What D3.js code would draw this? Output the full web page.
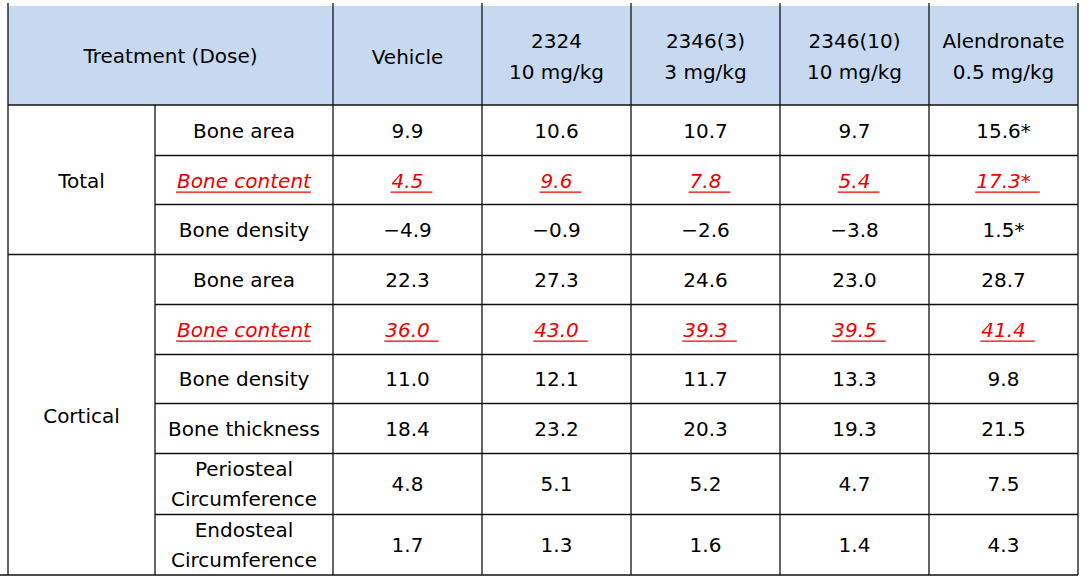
<!DOCTYPE html>
<html><head><meta charset="utf-8">
<script src="https://cdn.jsdelivr.net/npm/d3@7"></script>
<style>
html,body{margin:0;padding:0;background:#fff;}
svg{display:block;}
text{font-family:"DejaVu Sans",sans-serif;font-size:20px;fill:#000;}
</style></head><body>
<svg id="c" width="1091" height="580"></svg>
<script>
// ---- data ----
const headerTitle = "Treatment (Dose)";
const treatments = ["Vehicle", "2324", "2346(3)", "2346(10)", "Alendronate"];
const doses = ["", "10 mg/kg", "3 mg/kg", "10 mg/kg", "0.5 mg/kg"];
const groups = ["Total", "Cortical"];
const groupOf = ["Total","Total","Total","Cortical","Cortical","Cortical","Cortical","Cortical","Cortical"];
const parameters = [["Bone area"],["Bone content"],["Bone density"],["Bone area"],["Bone content"],["Bone density"],["Bone thickness"],["Periosteal","Circumference"],["Endosteal","Circumference"]];
const highlighted = [false,true,false,false,true,false,false,false,false];
const vehicle     = [9.9, 4.5, -4.9, 22.3, 36.0, 11.0, 18.4, 4.8, 1.7];
const c2324       = [10.6, 9.6, -0.9, 27.3, 43.0, 12.1, 23.2, 5.1, 1.3];
const c2346_3     = [10.7, 7.8, -2.6, 24.6, 39.3, 11.7, 20.3, 5.2, 1.6];
const c2346_10    = [9.7, 5.4, -3.8, 23.0, 39.5, 13.3, 19.3, 4.7, 1.4];
const alendronate = [15.6, 17.3, 1.5, 28.7, 41.4, 9.8, 21.5, 7.5, 4.3];
const significant = [true, true, true, false, false, false, false, false, false]; // Alendronate *
const series = [vehicle, c2324, c2346_3, c2346_10, alendronate];

// ---- layout ----
const svg = d3.select("#c");
const X0 = 8, X1 = 155, X2 = 333, XR = 1078;
const Y0 = 6, YH = 105, YB = 575;
const rowUnits = parameters.map(p => p.length > 1 ? 1.228 : 1);
const cum = [0]; rowUnits.forEach(u => cum.push(cum[cum.length-1] + u));
const yRow = d3.scaleLinear().domain([0, cum[cum.length-1]]).range([YH, YB]);
const xCol = d3.scaleBand().domain(treatments).range([X2, XR]).padding(0);
const fmt = v => d3.format(".1f")(v).replace("-", "\u2212");
const red = "#ee0000";

// header background
svg.append("rect").attr("x", X0).attr("y", Y0).attr("width", XR - X0).attr("height", YH - Y0).attr("fill", "#c6d9f0");

// header texts
svg.append("text").attr("x", (X0 + X2) / 2).attr("y", (Y0 + YH) / 2).attr("text-anchor", "middle").attr("dominant-baseline", "central").text(headerTitle);
treatments.forEach((t, i) => {
  const cx = xCol(t) + xCol.bandwidth() / 2;
  const lines = doses[i] ? [t, doses[i]] : [t];
  lines.forEach((l, j) => {
    svg.append("text").attr("x", cx).attr("y", (Y0 + YH) / 2 + (j - (lines.length - 1) / 2) * 31 + 1)
      .attr("text-anchor", "middle").attr("dominant-baseline", "central").text(l);
  });
});

// group labels
groups.forEach(g => {
  const idx = groupOf.map((d, i) => d === g ? i : -1).filter(i => i >= 0);
  const top = yRow(cum[idx[0]]), bot = yRow(cum[idx[idx.length - 1] + 1]);
  svg.append("text").attr("x", (X0 + X1) / 2).attr("y", (top + bot) / 2 + 1).attr("text-anchor", "middle").attr("dominant-baseline", "central").text(g);
});

function cellText(x, y, txt, hl, extra) {
  const t = svg.append("text").attr("x", x).attr("y", y).attr("text-anchor", "middle").attr("dominant-baseline", "central").text(txt);
  if (hl) {
    t.attr("fill", red).style("fill", red).attr("font-style", "italic");
    const w = t.node().getComputedTextLength();
    svg.append("line").attr("x1", x - w / 2 - 1).attr("x2", x + w / 2 + extra).attr("y1", y + 11.5).attr("y2", y + 11.5)
      .attr("stroke", red).attr("stroke-width", 1.2);
  }
  return t;
}

// rows
parameters.forEach((p, r) => {
  const top = yRow(cum[r]), bot = yRow(cum[r + 1]), cy = (top + bot) / 2 + 1;
  p.forEach((l, j) => cellText((X1 + X2) / 2, cy + (j - (p.length - 1) / 2) * 30, l, highlighted[r], 0));
  series.forEach((s, c) => {
    const cx = xCol(treatments[c]) + xCol.bandwidth() / 2;
    const star = (c === 4 && significant[r]) ? "*" : "";
    cellText(cx, cy, fmt(s[r]) + star, highlighted[r], 9);
  });
});

// grid lines
const stroke = "#111";
const hl = (x1, x2, y) => svg.append("line").attr("x1", x1).attr("x2", x2).attr("y1", y).attr("y2", y).attr("stroke", stroke).attr("stroke-width", 1.3);
const vl = (x, y1, y2) => svg.append("line").attr("x1", x).attr("x2", x).attr("y1", y1).attr("y2", y2).attr("stroke", stroke).attr("stroke-width", 1.3);
hl(X0, XR, YH);
cum.slice(1, -1).forEach((c, i) => {
  const boundary = groupOf[i] !== groupOf[i + 1];
  hl(boundary ? X0 : X1, XR, Math.round(yRow(c)) + 0.5);
});
hl(0, XR, YB);
vl(X0, 3, YB); vl(XR, 3, YB);
vl(X1, YH, YB);
treatments.forEach(t => vl(xCol(t), 3, YB));
</script>
</body></html>
